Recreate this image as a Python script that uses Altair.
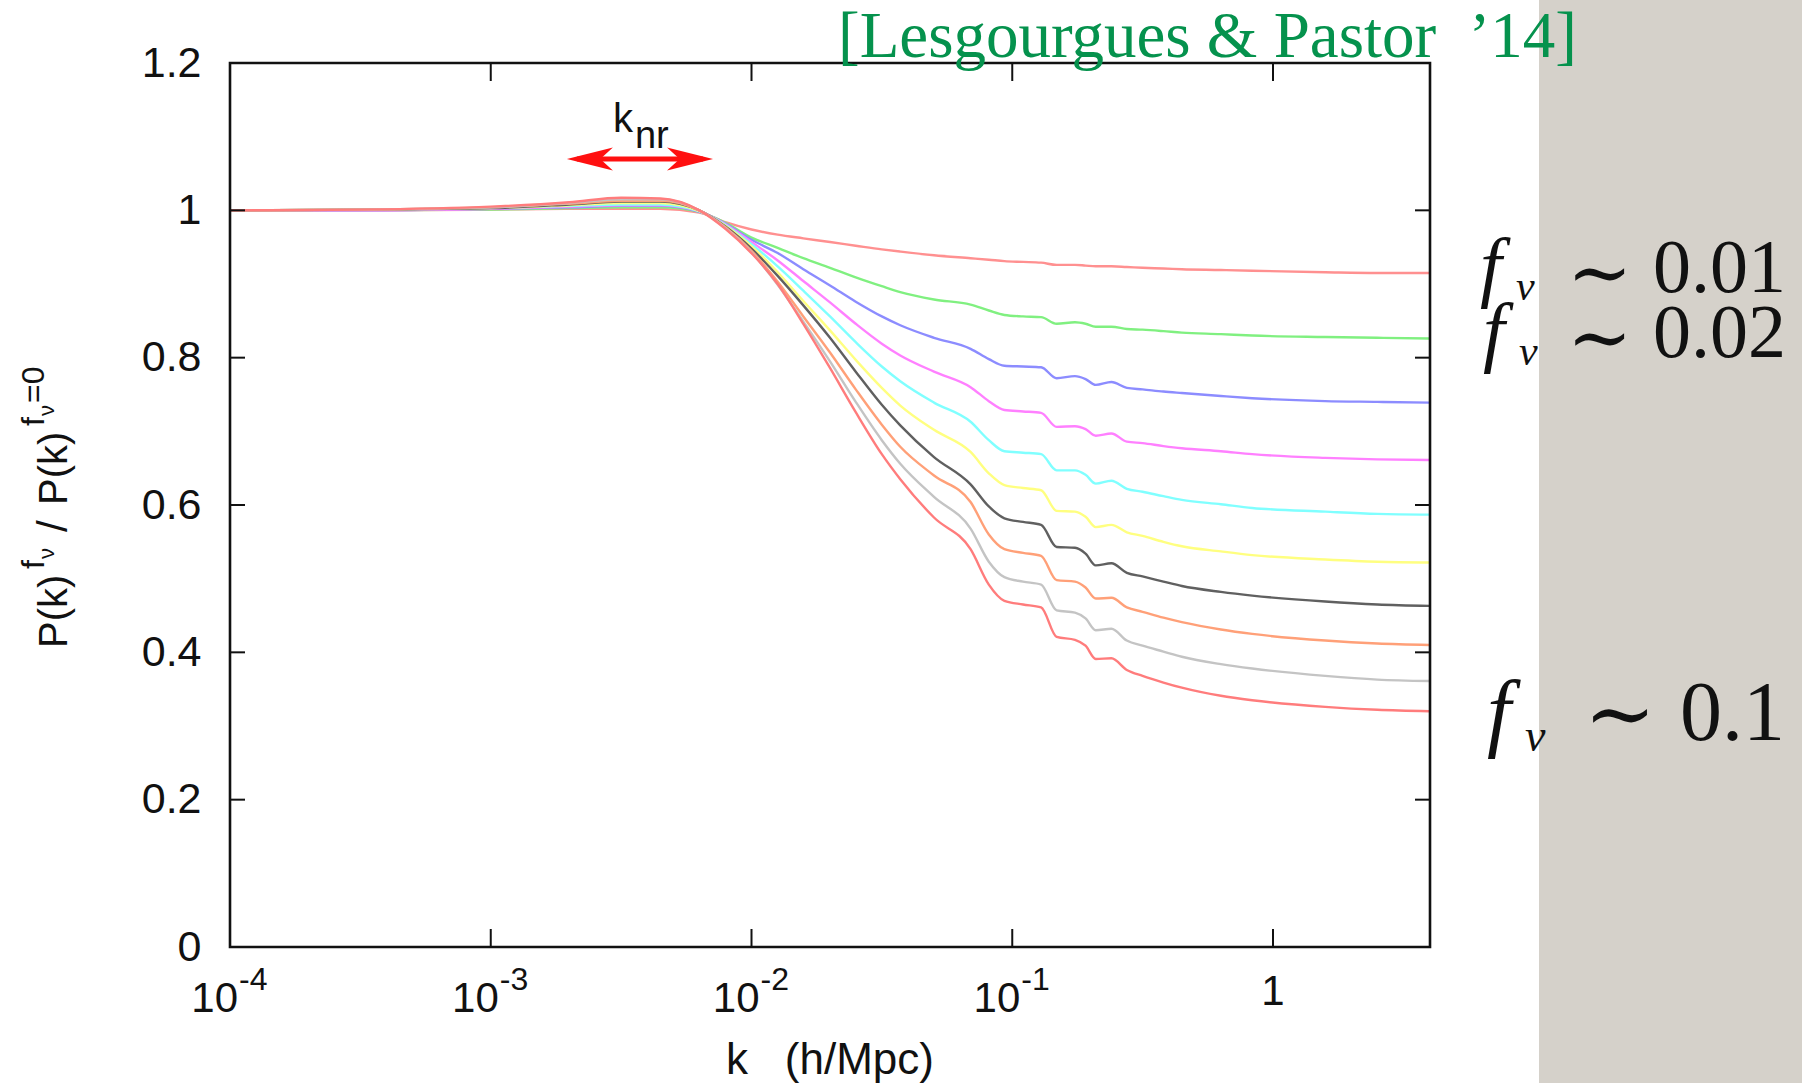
import altair as alt
import pandas as pd

# ---------------- data ----------------
K = [0.0001, 0.000316, 0.001, 0.002, 0.00316, 0.00447, 0.00631, 0.00794, 0.01,
     0.0126, 0.0158, 0.02, 0.0251, 0.0316, 0.0372, 0.0501, 0.0692, 0.0813,
     0.0933, 0.110, 0.129, 0.148, 0.174, 0.191, 0.209, 0.240, 0.275, 0.316,
     0.380, 0.447, 0.631, 0.832, 1.585, 2.512, 3.98]

RED1 = [1.000, 1.000, 1.001, 1.002, 1.002, 1.002, 0.997, 0.984, 0.974, 0.967,
        0.962, 0.957, 0.952, 0.947, 0.944, 0.939, 0.935, 0.933, 0.931, 0.930,
        0.929, 0.926, 0.926, 0.925, 0.924, 0.924, 0.923, 0.922, 0.921, 0.920,
        0.919, 0.918, 0.916, 0.915, 0.915]
GREEN = [1.000, 1.000, 1.001, 1.003, 1.004, 1.004, 0.998, 0.983, 0.963, 0.949,
         0.935, 0.922, 0.909, 0.897, 0.889, 0.879, 0.872, 0.864, 0.858, 0.856,
         0.855, 0.846, 0.848, 0.846, 0.842, 0.842, 0.839, 0.838, 0.836, 0.834,
         0.832, 0.830, 0.828, 0.827, 0.826]
BLUE = [1.000, 1.000, 1.002, 1.004, 1.006, 1.006, 0.998, 0.982, 0.960, 0.942,
        0.920, 0.898, 0.876, 0.856, 0.844, 0.827, 0.812, 0.798, 0.789, 0.788,
        0.787, 0.772, 0.775, 0.771, 0.763, 0.767, 0.759, 0.757, 0.754, 0.752,
        0.748, 0.745, 0.741, 0.740, 0.739]
MAGENTA = [1.000, 1.000, 1.002, 1.005, 1.007, 1.007, 0.999, 0.981, 0.957, 0.932,
           0.904, 0.875, 0.846, 0.819, 0.803, 0.781, 0.760, 0.741, 0.729, 0.727,
           0.725, 0.706, 0.707, 0.703, 0.694, 0.697, 0.686, 0.684, 0.680, 0.677,
           0.673, 0.669, 0.664, 0.662, 0.661]
CYAN = [1.000, 1.001, 1.003, 1.006, 1.008, 1.008, 0.999, 0.980, 0.954, 0.924,
        0.891, 0.856, 0.821, 0.788, 0.768, 0.739, 0.713, 0.688, 0.673, 0.671,
        0.669, 0.647, 0.647, 0.641, 0.629, 0.633, 0.622, 0.618, 0.612, 0.607,
        0.601, 0.596, 0.591, 0.588, 0.587]
YELLOW = [1.000, 1.001, 1.003, 1.007, 1.010, 1.010, 0.999, 0.979, 0.951, 0.916,
          0.877, 0.837, 0.797, 0.759, 0.735, 0.702, 0.672, 0.643, 0.627, 0.623,
          0.620, 0.592, 0.591, 0.584, 0.570, 0.573, 0.563, 0.558, 0.550, 0.544,
          0.537, 0.532, 0.526, 0.523, 0.522]
BLACK = [1.000, 1.001, 1.003, 1.008, 1.012, 1.012, 1.000, 0.978, 0.948, 0.911,
         0.871, 0.827, 0.781, 0.736, 0.708, 0.665, 0.628, 0.598, 0.582, 0.577,
         0.573, 0.543, 0.542, 0.534, 0.518, 0.521, 0.508, 0.503, 0.496, 0.490,
         0.482, 0.477, 0.469, 0.465, 0.463]
ORANGE = [1.000, 1.001, 1.004, 1.009, 1.013, 1.013, 1.000, 0.977, 0.945, 0.903,
          0.856, 0.807, 0.757, 0.709, 0.679, 0.640, 0.604, 0.560, 0.540, 0.535,
          0.531, 0.498, 0.496, 0.488, 0.473, 0.474, 0.461, 0.455, 0.447, 0.441,
          0.431, 0.425, 0.416, 0.412, 0.410]
GRAY = [1.000, 1.001, 1.004, 1.010, 1.015, 1.015, 1.000, 0.976, 0.943, 0.899,
        0.849, 0.795, 0.740, 0.688, 0.656, 0.611, 0.568, 0.523, 0.502, 0.496,
        0.492, 0.457, 0.454, 0.446, 0.430, 0.432, 0.416, 0.409, 0.401, 0.394,
        0.384, 0.378, 0.368, 0.363, 0.361]
RED2 = [1.000, 1.001, 1.005, 1.011, 1.017, 1.016, 1.000, 0.975, 0.942, 0.900,
        0.846, 0.786, 0.726, 0.669, 0.635, 0.583, 0.540, 0.492, 0.470, 0.465,
        0.461, 0.421, 0.417, 0.409, 0.391, 0.392, 0.376, 0.368, 0.359, 0.352,
        0.341, 0.335, 0.326, 0.322, 0.320]

SERIES = ["0.01", "0.02", "0.03", "0.04", "0.05", "0.06", "0.07", "0.08", "0.09", "0.10"]
CURVES = [RED1, GREEN, BLUE, MAGENTA, CYAN, YELLOW, BLACK, ORANGE, GRAY, RED2]
COLORS = ["#ff9090", "#80f080", "#8c8cff", "#ff80ff", "#80ffff",
          "#ffff80", "#606060", "#ffa078", "#c4c4c4", "#ff7c7c"]

Y_TICKS = [0, 0.2, 0.4, 0.6, 0.8, 1.0, 1.2]
X_TICKS = [0.001, 0.01, 0.1, 1]
X_POW_K = [0.0001, 0.001, 0.01, 0.1]
X_POW_EXP = ["-4", "-3", "-2", "-1"]
X_ONE_K = [1]

# annotation anchors (data space)
KNR_ARROW = [0.00214, 0.00652]
KNR_HEADS_K = [0.00240, 0.00581]
KNR_Y = 1.0697
KNR_LABEL_K = 0.00351
CITATION = "[Lesgourgues & Pastor\u00a0\u00a0\u201914]"

# ---------------- chart ----------------
W, H = 1200, 884
PAD = {"left": 230, "top": 63, "right": 372, "bottom": 136}

rows = []
for name, vals in zip(SERIES, CURVES):
    for k, v in zip(K, vals):
        rows.append({"k": k, "ratio": v, "series": name})
df = pd.DataFrame(rows)

xs = alt.Scale(type="log", domain=[1e-4, 4.0], nice=False)
ys = alt.Scale(domain=[0, 1.2], nice=False, zero=False)

Y_AXIS = alt.Axis(values=Y_TICKS, format=".1~f", labelFont="Liberation Sans",
                  labelFontSize=43, labelColor="#111111", labelPadding=29,
                  tickSize=0, ticks=False, domain=False, grid=False,
                  labelFlush=False, labelOverlap=False, title=None)

SANS = "Liberation Sans"
SERIF = "Liberation Serif, DejaVu Serif"


def txt(text, x, y, size, font=SANS, color="#111111", align="left",
        angle=0, style="normal"):
    return alt.Chart(pd.DataFrame({"t": [text]})).mark_text(
        align=align, baseline="alphabetic", font=font, fontSize=size,
        color=color, angle=angle, fontStyle=style
    ).encode(text="t:N", x=alt.value(x), y=alt.value(y))


panel = alt.Chart(pd.DataFrame({"a": [0]})).mark_rect(color="#d5d1ca").encode(
    x=alt.value(1309), x2=alt.value(1572), y=alt.value(-63), y2=alt.value(1020))

lines = alt.Chart(df).mark_line(strokeWidth=2.4, interpolate="monotone").encode(
    x=alt.X("k:Q", scale=xs, axis=None),
    y=alt.Y("ratio:Q", scale=ys, axis=Y_AXIS),
    color=alt.Color("series:N", scale=alt.Scale(domain=SERIES, range=COLORS), legend=None),
)

frame = alt.Chart(pd.DataFrame({"a": [0]})).mark_rect(
    filled=False, stroke="#111111", strokeWidth=2.6).encode(
    x=alt.value(0), x2=alt.value(W), y=alt.value(0), y2=alt.value(H))

ydf = pd.DataFrame({"v": Y_TICKS})
xdf = pd.DataFrame({"k": X_TICKS})
tick_l = alt.Chart(ydf).mark_rule(color="#111111", strokeWidth=2).encode(
    y=alt.Y("v:Q", scale=ys, axis=Y_AXIS), x=alt.value(0), x2=alt.value(15))
tick_r = alt.Chart(ydf).mark_rule(color="#111111", strokeWidth=2).encode(
    y=alt.Y("v:Q", scale=ys, axis=Y_AXIS), x=alt.value(W - 15), x2=alt.value(W))
tick_b = alt.Chart(xdf).mark_rule(color="#111111", strokeWidth=2).encode(
    x=alt.X("k:Q", scale=xs, axis=None), y=alt.value(H - 18), y2=alt.value(H))
tick_t = alt.Chart(xdf).mark_rule(color="#111111", strokeWidth=2).encode(
    x=alt.X("k:Q", scale=xs, axis=None), y=alt.value(0), y2=alt.value(18))

powdf = pd.DataFrame({"k": X_POW_K, "base": ["10"] * 4, "exp": X_POW_EXP})
xlab_base = alt.Chart(powdf).mark_text(
    align="right", baseline="alphabetic", font=SANS, fontSize=42, color="#111111", dx=8
).encode(x=alt.X("k:Q", scale=xs, axis=None), y=alt.value(949), text="base:N")
xlab_exp = alt.Chart(powdf).mark_text(
    align="left", baseline="alphabetic", font=SANS, fontSize=32, color="#111111", dx=9
).encode(x=alt.X("k:Q", scale=xs, axis=None), y=alt.value(927), text="exp:N")
xlab_one = alt.Chart(pd.DataFrame({"k": X_ONE_K, "t": ["1"]})).mark_text(
    align="center", baseline="alphabetic", font=SANS, fontSize=42, color="#111111"
).encode(x=alt.X("k:Q", scale=xs, axis=None), y=alt.value(942), text="t:N")

xtitle = txt("k\u00a0\u00a0\u00a0(h/Mpc)", W / 2, 1011, 44, align="center")

# y title pieces, rotated
ytitle = [
    txt("P(k)", -163, 585, 40, angle=270),
    txt("f", -186, 506, 32, angle=270),
    txt("\u03bd", -176, 496, 22, angle=270),
    txt("/", -163, 469, 42, angle=270),
    txt("P(k)", -163, 442, 40, angle=270),
    txt("f", -186, 363, 32, angle=270),
    txt("\u03bd", -176, 353, 22, angle=270),
    txt("=0", -186, 340, 32, angle=270),
]

# k_nr arrow
shaft = alt.Chart(pd.DataFrame({"k": [KNR_ARROW[0]], "k2": [KNR_ARROW[1]], "y": [KNR_Y]})).mark_rule(
    color="#ff1010", strokeWidth=5).encode(
    x=alt.X("k:Q", scale=xs, axis=None), x2="k2:Q", y=alt.Y("y:Q", scale=ys, axis=Y_AXIS))
head_l = alt.Chart(pd.DataFrame({"k": [KNR_HEADS_K[0]], "y": [KNR_Y]})).mark_point(
    shape="M -1 0 L 1 -0.5 L 0.45 0 L 1 0.5 Z", filled=True, size=2116,
    color="#ff1010", opacity=1).encode(
    x=alt.X("k:Q", scale=xs, axis=None), y=alt.Y("y:Q", scale=ys, axis=Y_AXIS))
head_r = alt.Chart(pd.DataFrame({"k": [KNR_HEADS_K[1]], "y": [KNR_Y]})).mark_point(
    shape="M 1 0 L -1 -0.5 L -0.45 0 L -1 0.5 Z", filled=True, size=2116,
    color="#ff1010", opacity=1).encode(
    x=alt.X("k:Q", scale=xs, axis=None), y=alt.Y("y:Q", scale=ys, axis=Y_AXIS))
knr_k = alt.Chart(pd.DataFrame({"k": [KNR_LABEL_K], "y": [1.106], "t": ["k"]})).mark_text(
    align="right", baseline="alphabetic", font=SANS, fontSize=40, color="#111111").encode(
    x=alt.X("k:Q", scale=xs, axis=None), y=alt.Y("y:Q", scale=ys, axis=Y_AXIS), text="t:N")
knr_nr = alt.Chart(pd.DataFrame({"k": [KNR_LABEL_K], "y": [1.0846], "t": ["nr"]})).mark_text(
    align="left", baseline="alphabetic", font=SANS, fontSize=38, color="#111111", dx=2).encode(
    x=alt.X("k:Q", scale=xs, axis=None), y=alt.Y("y:Q", scale=ys, axis=Y_AXIS), text="t:N")

citation = txt(CITATION, 608, -6, 65, font=SERIF, color="#05924d")

TILDE = "DejaVu Serif"
flabels = [
    txt("f", 1250, 229, 78, font=SERIF, style="italic"),
    txt("\u03bd", 1286, 237, 42, font=SERIF, style="italic"),
    txt("\u223c", 1337, 236, 78, font=TILDE),
    txt("0.01", 1423, 229, 76, font=SERIF),
    txt("f", 1253, 294, 78, font=SERIF, style="italic"),
    txt("\u03bd", 1289, 302, 42, font=SERIF, style="italic"),
    txt("\u223c", 1337, 301, 78, font=TILDE),
    txt("0.02", 1423, 294, 76, font=SERIF),
    txt("f", 1257, 677, 86, font=SERIF, style="italic"),
    txt("\u03bd", 1295, 688, 46, font=SERIF, style="italic"),
    txt("\u223c", 1354, 680, 86, font=TILDE),
    txt("0.1", 1450, 677, 84, font=SERIF),
]

chart = alt.layer(
    panel, lines, frame, tick_l, tick_r, tick_b, tick_t,
    xlab_base, xlab_exp, xlab_one, xtitle, *ytitle,
    shaft, head_l, head_r, knr_k, knr_nr, citation, *flabels
).properties(
    width=W, height=H, autosize="none", padding=PAD
).configure_view(
    strokeWidth=0
).configure(background="white")

chart.save("out.html", embed_options={"renderer": "svg", "actions": False})
